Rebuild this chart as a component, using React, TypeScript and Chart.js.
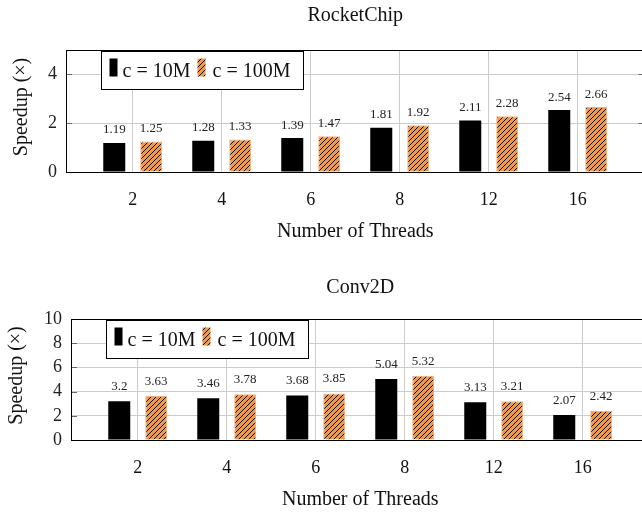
import React, { useEffect, useRef } from 'react';
import { Chart, registerables } from 'chart.js';

Chart.register(...registerables);

// ---------- data ----------
const threads = ['2', '4', '6', '8', '12', '16'];
const seriesLabels = ['c = 10M', 'c = 100M'];
const rocketC10M = [1.19, 1.28, 1.39, 1.81, 2.11, 2.54];
const rocketC100M = [1.25, 1.33, 1.47, 1.92, 2.28, 2.66];
const convC10M = [3.2, 3.46, 3.68, 5.04, 3.13, 2.07];
const convC100M = [3.63, 3.78, 3.85, 5.32, 3.21, 2.42];
const rocketYTicks = [0, 2, 4];
const convYTicks = [0, 2, 4, 6, 8, 10];
const rocketTitle = 'RocketChip';
const convTitle = 'Conv2D';
const xTitle = 'Number of Threads';
const yTitle = 'Speedup (×)';

// ---------- style ----------
const SERIF = '"Liberation Serif", "Times New Roman", serif';
const ORANGE = '#EE9A4D';
const GRID = '#cccccc';
const CANVAS_W = 660;

function makeHatch(): CanvasPattern | string {
  const s = 5;
  const c = document.createElement('canvas');
  c.width = s;
  c.height = s;
  const g = c.getContext('2d');
  if (!g) return ORANGE;
  g.fillStyle = ORANGE;
  g.fillRect(0, 0, s, s);
  g.strokeStyle = '#111';
  g.lineWidth = 1;
  g.beginPath();
  g.moveTo(0, s);
  g.lineTo(s, 0);
  g.moveTo(-s / 2, s / 2);
  g.lineTo(s / 2, -s / 2);
  g.moveTo(s / 2, s * 1.5);
  g.lineTo(s * 1.5, s / 2);
  g.stroke();
  return g.createPattern(c, 'repeat') || ORANGE;
}

type Panel = {
  title: string;
  a: number[];
  b: number[];
  yMax: number;
  yTicks: number[];
  height: number;
  padTop: number;
  xAxisH: number;
  yAxisW: number;
  padRight: number;
  titleBaseline: number;
  yTitleX: number;
  labelGap: number;
};

const panels: Panel[] = [
  {
    title: rocketTitle, a: rocketC10M, b: rocketC100M, yMax: 5, yTicks: rocketYTicks,
    height: 258, padTop: 50, xAxisH: 86, yAxisW: 66, padRight: 15.5,
    titleBaseline: 21, yTitleX: 27, labelGap: 9.5,
  },
  {
    title: convTitle, a: convC10M, b: convC100M, yMax: 10, yTicks: convYTicks,
    height: 257, padTop: 61, xAxisH: 75, yAxisW: 71, padRight: 10.5,
    titleBaseline: 34.7, yTitleX: 21.5, labelGap: 11,
  },
];

function makeDecor(p: Panel, hatch: CanvasPattern | string) {
  return {
    id: 'decor',
    afterDraw(chart: any) {
      const ctx: CanvasRenderingContext2D = chart.ctx;
      const area = chart.chartArea;
      const xs = chart.scales.x;
      const ys = chart.scales.y;
      ctx.save();

      // inner tick marks on y
      ctx.strokeStyle = '#666';
      ctx.lineWidth = 1;
      ctx.beginPath();
      p.yTicks.forEach((v) => {
        if (v === 0 || v === p.yMax) return;
        const y = Math.round(ys.getPixelForValue(v)) + 0.5;
        ctx.moveTo(area.left, y);
        ctx.lineTo(area.left + 6, y);
        ctx.moveTo(area.right - 6, y);
        ctx.lineTo(area.right, y);
      });
      ctx.stroke();

      // frame
      ctx.strokeStyle = '#000';
      ctx.lineWidth = 1;
      ctx.strokeRect(Math.round(area.left) + 0.5, Math.round(area.top) + 0.5,
        Math.round(area.right - area.left), Math.round(area.bottom - area.top));

      // title
      ctx.fillStyle = '#111';
      ctx.font = `20px ${SERIF}`;
      ctx.textAlign = 'center';
      ctx.textBaseline = 'alphabetic';
      ctx.fillText(p.title, (area.left + area.right) / 2, p.titleBaseline);

      // x tick labels
      ctx.font = `18px ${SERIF}`;
      xs.ticks.forEach((t: any) => {
        const x = xs.getPixelForValue(t.value);
        ctx.fillText(threads[t.value], x, area.bottom + 33);
      });

      // x title
      ctx.font = `20px ${SERIF}`;
      ctx.fillText(xTitle, (area.left + area.right) / 2, area.bottom + 65);

      // y title
      ctx.save();
      ctx.translate(p.yTitleX, (area.top + area.bottom) / 2 - 4);
      ctx.rotate(-Math.PI / 2);
      ctx.fillText(yTitle, 0, 0);
      ctx.restore();

      // data labels
      ctx.font = `13px ${SERIF}`;
      ctx.fillStyle = '#222';
      [p.a, p.b].forEach((vals, d) => {
        const meta = chart.getDatasetMeta(d);
        meta.data.forEach((el: any, i: number) => {
          ctx.fillText(String(vals[i]), el.x, el.y - p.labelGap);
        });
      });

      // legend
      const bx = Math.round(area.left) + 35.5;
      const by = Math.round(area.top) + 1.5;
      const bw = 202;
      const bh = 38;
      ctx.fillStyle = '#fff';
      ctx.fillRect(bx, by, bw, bh);
      ctx.strokeStyle = '#000';
      ctx.strokeRect(bx, by, bw, bh);
      ctx.fillStyle = '#000';
      ctx.fillRect(bx + 8, by + 7, 8, 18);
      ctx.fillStyle = hatch as any;
      ctx.fillRect(bx + 96, by + 7, 8, 18);
      ctx.fillStyle = '#111';
      ctx.font = `20px ${SERIF}`;
      ctx.textAlign = 'left';
      ctx.fillText(seriesLabels[0], bx + 21, by + 25);
      ctx.fillText(seriesLabels[1], bx + 111, by + 25);

      ctx.restore();
    },
  };
}

function PanelChart({ p, top }: { p: Panel; top: number }) {
  const ref = useRef<HTMLCanvasElement>(null);
  useEffect(() => {
    const canvas = ref.current;
    if (!canvas) return;
    const hatch = makeHatch();
    const chart = new Chart(canvas, {
      type: 'bar',
      data: {
        datasets: [
          {
            label: seriesLabels[0],
            data: p.a.map((v, i) => ({ x: i, y: v })),
            backgroundColor: '#000',
            borderWidth: 0,
            categoryPercentage: 0.831,
            barPercentage: 0.595,
          },
          {
            label: seriesLabels[1],
            data: p.b.map((v, i) => ({ x: i, y: v })),
            backgroundColor: hatch as any,
            borderColor: '#F3B27C',
            borderWidth: 1,
            categoryPercentage: 0.831,
            barPercentage: 0.595,
          },
        ],
      } as any,
      options: {
        responsive: false,
        animation: false,
        devicePixelRatio: 1,
        layout: { padding: { top: p.padTop, right: p.padRight, left: 0, bottom: 0 } },
        plugins: {
          legend: { display: false },
          tooltip: { enabled: false },
          title: { display: false },
        },
        scales: {
          x: {
            type: 'linear',
            min: -0.75,
            max: 5.75,
            offset: false,
            grid: { offset: false, color: GRID, drawTicks: false },
            border: { display: false },
            ticks: { display: false, autoSkip: false },
            afterBuildTicks: (s: any) => {
              s.ticks = threads.map((_, i) => ({ value: i }));
            },
            afterFit: (s: any) => {
              s.height = p.xAxisH;
            },
          },
          y: {
            type: 'linear',
            min: 0,
            max: p.yMax,
            grid: { color: GRID, drawTicks: false },
            border: { display: false },
            ticks: { padding: 9, color: '#222', autoSkip: false, font: { family: SERIF, size: 18 } },
            afterBuildTicks: (s: any) => {
              s.ticks = p.yTicks.map((v) => ({ value: v }));
            },
            afterFit: (s: any) => {
              s.width = p.yAxisW;
            },
          },
        },
      } as any,
      plugins: [makeDecor(p, hatch)],
    });
    return () => chart.destroy();
  }, [p]);
  return (
    <canvas
      ref={ref}
      width={CANVAS_W}
      height={p.height}
      style={{ position: 'absolute', left: 0, top, display: 'block', width: CANVAS_W, height: p.height }}
    />
  );
}

export default function App() {
  return (
    <div style={{ position: 'fixed', left: 0, top: 0, width: 642, height: 515, overflow: 'hidden', background: '#fff' }}>
      <PanelChart p={panels[0]} top={0} />
      <PanelChart p={panels[1]} top={258} />
    </div>
  );
}
